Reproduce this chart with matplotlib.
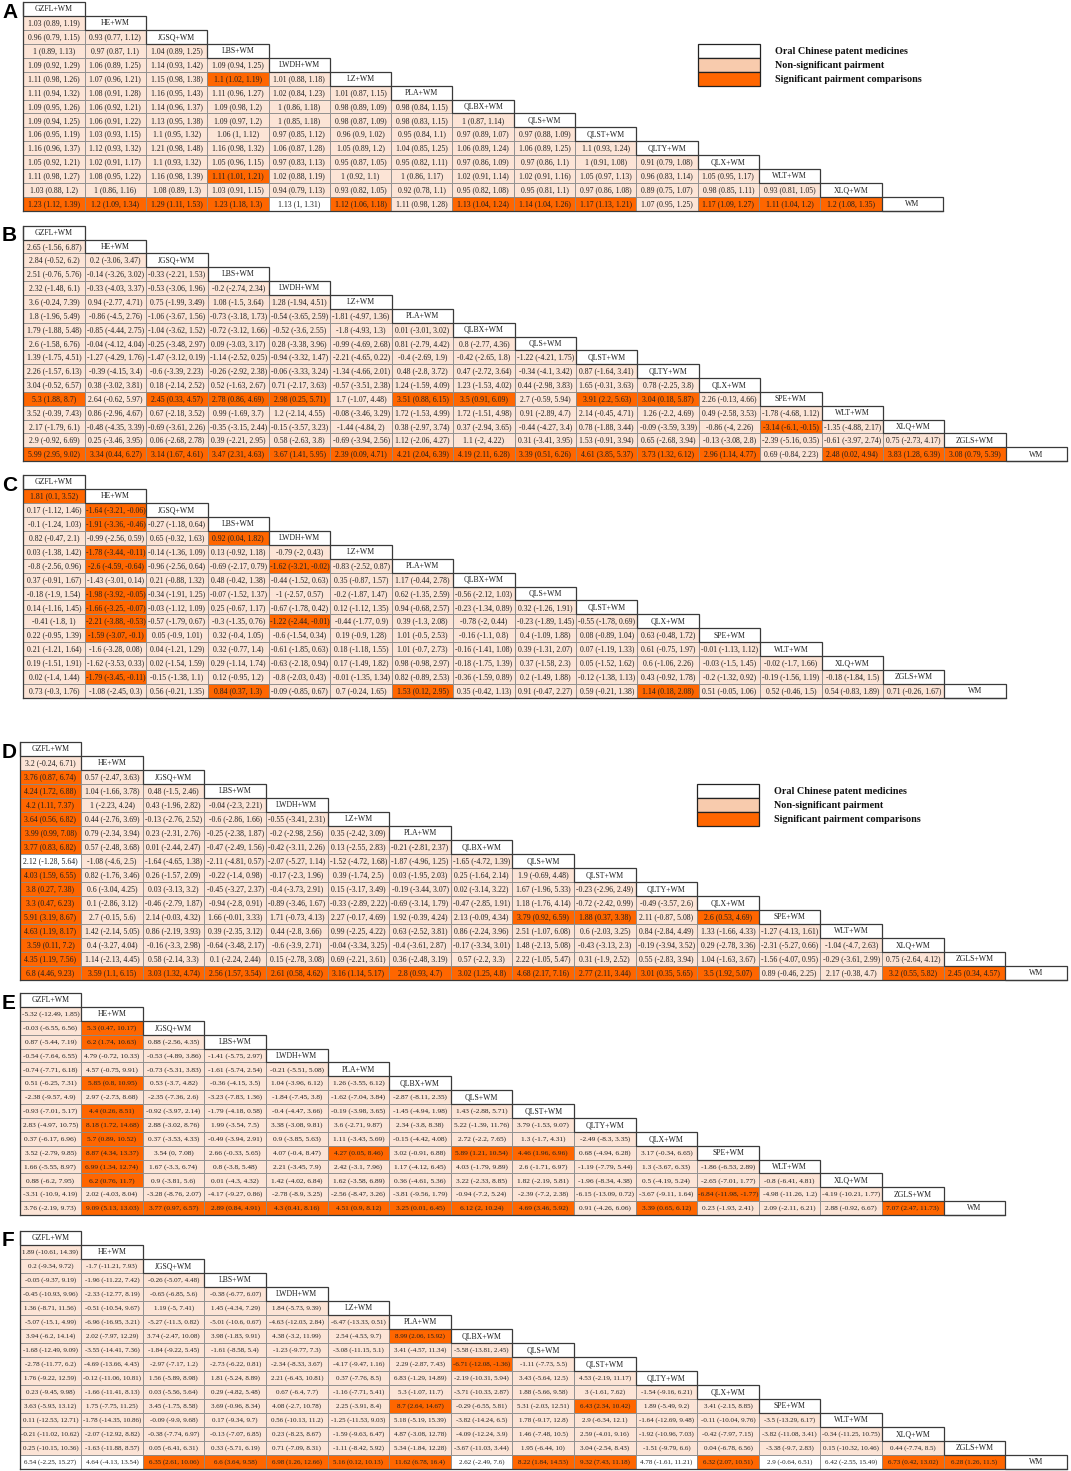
import re
import matplotlib
matplotlib.use("Agg")
import matplotlib.pyplot as plt
from matplotlib.patches import Rectangle

# ---------------- DATA ----------------
treat_A = ["GZFL+WM", "HE+WM", "JGSQ+WM", "LBS+WM", "LWDH+WM", "LZ+WM", "PLA+WM", "QLBX+WM",
           "QLS+WM", "QLST+WM", "QLTY+WM", "QLX+WM", "WLT+WM", "XLQ+WM", "WM"]
treat_17 = ["GZFL+WM", "HE+WM", "JGSQ+WM", "LBS+WM", "LWDH+WM", "LZ+WM", "PLA+WM", "QLBX+WM",
            "QLS+WM", "QLST+WM", "QLTY+WM", "QLX+WM", "SPE+WM", "WLT+WM", "XLQ+WM", "ZGLS+WM", "WM"]
treat_C = ["GZFL+WM", "HE+WM", "JGSQ+WM", "LBS+WM", "LWDH+WM", "LZ+WM", "PLA+WM", "QLBX+WM",
           "QLS+WM", "QLST+WM", "QLX+WM", "SPE+WM", "WLT+WM", "XLQ+WM", "ZGLS+WM", "WM"]
treat_E = ["GZFL+WM", "HE+WM", "JGSQ+WM", "LBS+WM", "LWDH+WM", "PLA+WM", "QLBX+WM",
           "QLS+WM", "QLST+WM", "QLTY+WM", "QLX+WM", "SPE+WM", "WLT+WM", "XLQ+WM", "ZGLS+WM", "WM"]

rows_A = [
    ["1.03 (0.89, 1.19)"],
    ["0.96 (0.79, 1.15)", "0.93 (0.77, 1.12)"],
    ["1 (0.89, 1.13)", "0.97 (0.87, 1.1)", "1.04 (0.89, 1.25)"],
    ["1.09 (0.92, 1.29)", "1.06 (0.89, 1.25)", "1.14 (0.93, 1.42)", "1.09 (0.94, 1.25)"],
    ["1.11 (0.98, 1.26)", "1.07 (0.96, 1.21)", "1.15 (0.98, 1.38)", "1.1 (1.02, 1.19)", "1.01 (0.88, 1.18)"],
    ["1.11 (0.94, 1.32)", "1.08 (0.91, 1.28)", "1.16 (0.95, 1.43)", "1.11 (0.96, 1.27)", "1.02 (0.84, 1.23)",
     "1.01 (0.87, 1.15)"],
    ["1.09 (0.95, 1.26)", "1.06 (0.92, 1.21)", "1.14 (0.96, 1.37)", "1.09 (0.98, 1.2)", "1 (0.86, 1.18)",
     "0.98 (0.89, 1.09)", "0.98 (0.84, 1.15)"],
    ["1.09 (0.94, 1.25)", "1.06 (0.91, 1.22)", "1.13 (0.95, 1.38)", "1.09 (0.97, 1.2)", "1 (0.85, 1.18)",
     "0.98 (0.87, 1.09)", "0.98 (0.83, 1.15)", "1 (0.87, 1.14)"],
    ["1.06 (0.95, 1.19)", "1.03 (0.93, 1.15)", "1.1 (0.95, 1.32)", "1.06 (1, 1.12)", "0.97 (0.85, 1.12)",
     "0.96 (0.9, 1.02)", "0.95 (0.84, 1.1)", "0.97 (0.89, 1.07)", "0.97 (0.88, 1.09)"],
    ["1.16 (0.96, 1.37)", "1.12 (0.93, 1.32)", "1.21 (0.98, 1.48)", "1.16 (0.98, 1.32)", "1.06 (0.87, 1.28)",
     "1.05 (0.89, 1.2)", "1.04 (0.85, 1.25)", "1.06 (0.89, 1.24)", "1.06 (0.89, 1.25)", "1.1 (0.93, 1.24)"],
    ["1.05 (0.92, 1.21)", "1.02 (0.91, 1.17)", "1.1 (0.93, 1.32)", "1.05 (0.96, 1.15)", "0.97 (0.83, 1.13)",
     "0.95 (0.87, 1.05)", "0.95 (0.82, 1.11)", "0.97 (0.86, 1.09)", "0.97 (0.86, 1.1)", "1 (0.91, 1.08)",
     "0.91 (0.79, 1.08)"],
    ["1.11 (0.98, 1.27)", "1.08 (0.95, 1.22)", "1.16 (0.98, 1.39)", "1.11 (1.01, 1.21)", "1.02 (0.88, 1.19)",
     "1 (0.92, 1.1)", "1 (0.86, 1.17)", "1.02 (0.91, 1.14)", "1.02 (0.91, 1.16)", "1.05 (0.97, 1.13)",
     "0.96 (0.83, 1.14)", "1.05 (0.95, 1.17)"],
    ["1.03 (0.88, 1.2)", "1 (0.86, 1.16)", "1.08 (0.89, 1.3)", "1.03 (0.91, 1.15)", "0.94 (0.79, 1.13)",
     "0.93 (0.82, 1.05)", "0.92 (0.78, 1.1)", "0.95 (0.82, 1.08)", "0.95 (0.81, 1.1)", "0.97 (0.86, 1.08)",
     "0.89 (0.75, 1.07)", "0.98 (0.85, 1.11)", "0.93 (0.81, 1.05)"],
    ["1.23 (1.12, 1.39)", "1.2 (1.09, 1.34)", "1.29 (1.11, 1.53)", "1.23 (1.18, 1.3)", "1.13 (1, 1.31)",
     "1.12 (1.06, 1.18)", "1.11 (0.98, 1.28)", "1.13 (1.04, 1.24)", "1.14 (1.04, 1.26)", "1.17 (1.13, 1.21)",
     "1.07 (0.95, 1.25)", "1.17 (1.09, 1.27)", "1.11 (1.04, 1.2)", "1.2 (1.08, 1.35)"],
]

rows_B = [
    ["2.65 (-1.56, 6.87)"],
    ["2.84 (-0.52, 6.2)", "0.2 (-3.06, 3.47)"],
    ["2.51 (-0.76, 5.76)", "-0.14 (-3.26, 3.02)", "-0.33 (-2.21, 1.53)"],
    ["2.32 (-1.48, 6.1)", "-0.33 (-4.03, 3.37)", "-0.53 (-3.06, 1.96)", "-0.2 (-2.74, 2.34)"],
    ["3.6 (-0.24, 7.39)", "0.94 (-2.77, 4.71)", "0.75 (-1.99, 3.49)", "1.08 (-1.5, 3.64)", "1.28 (-1.94, 4.51)"],
    ["1.8 (-1.96, 5.49)", "-0.86 (-4.5, 2.76)", "-1.06 (-3.67, 1.56)", "-0.73 (-3.18, 1.73)",
     "-0.54 (-3.65, 2.59)", "-1.81 (-4.97, 1.36)"],
    ["1.79 (-1.88, 5.48)", "-0.85 (-4.44, 2.75)", "-1.04 (-3.62, 1.52)", "-0.72 (-3.12, 1.66)",
     "-0.52 (-3.6, 2.55)", "-1.8 (-4.93, 1.3)", "0.01 (-3.01, 3.02)"],
    ["2.6 (-1.58, 6.76)", "-0.04 (-4.12, 4.04)", "-0.25 (-3.48, 2.97)", "0.09 (-3.03, 3.17)",
     "0.28 (-3.38, 3.96)", "-0.99 (-4.69, 2.68)", "0.81 (-2.79, 4.42)", "0.8 (-2.77, 4.36)"],
    ["1.39 (-1.75, 4.51)", "-1.27 (-4.29, 1.76)", "-1.47 (-3.12, 0.19)", "-1.14 (-2.52, 0.25)",
     "-0.94 (-3.32, 1.47)", "-2.21 (-4.65, 0.22)", "-0.4 (-2.69, 1.9)", "-0.42 (-2.65, 1.8)",
     "-1.22 (-4.21, 1.75)"],
    ["2.26 (-1.57, 6.13)", "-0.39 (-4.15, 3.4)", "-0.6 (-3.39, 2.23)", "-0.26 (-2.92, 2.38)",
     "-0.06 (-3.33, 3.24)", "-1.34 (-4.66, 2.01)", "0.48 (-2.8, 3.72)", "0.47 (-2.72, 3.64)",
     "-0.34 (-4.1, 3.42)", "0.87 (-1.64, 3.41)"],
    ["3.04 (-0.52, 6.57)", "0.38 (-3.02, 3.81)", "0.18 (-2.14, 2.52)", "0.52 (-1.63, 2.67)",
     "0.71 (-2.17, 3.63)", "-0.57 (-3.51, 2.38)", "1.24 (-1.59, 4.09)", "1.23 (-1.53, 4.02)",
     "0.44 (-2.98, 3.83)", "1.65 (-0.31, 3.63)", "0.78 (-2.25, 3.8)"],
    ["5.3 (1.88, 8.7)", "2.64 (-0.62, 5.97)", "2.45 (0.33, 4.57)", "2.78 (0.86, 4.69)", "2.98 (0.25, 5.71)",
     "1.7 (-1.07, 4.48)", "3.51 (0.88, 6.15)", "3.5 (0.91, 6.09)", "2.7 (-0.59, 5.94)", "3.91 (2.2, 5.63)",
     "3.04 (0.18, 5.87)", "2.26 (-0.13, 4.66)"],
    ["3.52 (-0.39, 7.43)", "0.86 (-2.96, 4.67)", "0.67 (-2.18, 3.52)", "0.99 (-1.69, 3.7)",
     "1.2 (-2.14, 4.55)", "-0.08 (-3.46, 3.29)", "1.72 (-1.53, 4.99)", "1.72 (-1.51, 4.98)",
     "0.91 (-2.89, 4.7)", "2.14 (-0.45, 4.71)", "1.26 (-2.2, 4.69)", "0.49 (-2.58, 3.53)",
     "-1.78 (-4.68, 1.12)"],
    ["2.17 (-1.79, 6.1)", "-0.48 (-4.35, 3.39)", "-0.69 (-3.61, 2.26)", "-0.35 (-3.15, 2.44)",
     "-0.15 (-3.57, 3.23)", "-1.44 (-4.84, 2)", "0.38 (-2.97, 3.74)", "0.37 (-2.94, 3.65)",
     "-0.44 (-4.27, 3.4)", "0.78 (-1.88, 3.44)", "-0.09 (-3.59, 3.39)", "-0.86 (-4, 2.26)",
     "-3.14 (-6.1, -0.15)", "-1.35 (-4.88, 2.17)"],
    ["2.9 (-0.92, 6.69)", "0.25 (-3.46, 3.95)", "0.06 (-2.68, 2.78)", "0.39 (-2.21, 2.95)",
     "0.58 (-2.63, 3.8)", "-0.69 (-3.94, 2.56)", "1.12 (-2.06, 4.27)", "1.1 (-2, 4.22)",
     "0.31 (-3.41, 3.95)", "1.53 (-0.91, 3.94)", "0.65 (-2.68, 3.94)", "-0.13 (-3.08, 2.8)",
     "-2.39 (-5.16, 0.35)", "-0.61 (-3.97, 2.74)", "0.75 (-2.73, 4.17)"],
    ["5.99 (2.95, 9.02)", "3.34 (0.44, 6.27)", "3.14 (1.67, 4.61)", "3.47 (2.31, 4.63)", "3.67 (1.41, 5.95)",
     "2.39 (0.09, 4.71)", "4.21 (2.04, 6.39)", "4.19 (2.11, 6.28)", "3.39 (0.51, 6.26)", "4.61 (3.85, 5.37)",
     "3.73 (1.32, 6.12)", "2.96 (1.14, 4.77)", "0.69 (-0.84, 2.23)", "2.48 (0.02, 4.94)",
     "3.83 (1.28, 6.39)", "3.08 (0.79, 5.39)"],
]

rows_C = [
    ["1.81 (0.1, 3.52)"],
    ["0.17 (-1.12, 1.46)", "-1.64 (-3.21, -0.06)"],
    ["-0.1 (-1.24, 1.03)", "-1.91 (-3.36, -0.46)", "-0.27 (-1.18, 0.64)"],
    ["0.82 (-0.47, 2.1)", "-0.99 (-2.56, 0.59)", "0.65 (-0.32, 1.63)", "0.92 (0.04, 1.82)"],
    ["0.03 (-1.38, 1.42)", "-1.78 (-3.44, -0.11)", "-0.14 (-1.36, 1.09)", "0.13 (-0.92, 1.18)",
     "-0.79 (-2, 0.43)"],
    ["-0.8 (-2.56, 0.96)", "-2.6 (-4.59, -0.64)", "-0.96 (-2.56, 0.64)", "-0.69 (-2.17, 0.79)",
     "-1.62 (-3.21, -0.02)", "-0.83 (-2.52, 0.87)"],
    ["0.37 (-0.91, 1.67)", "-1.43 (-3.01, 0.14)", "0.21 (-0.88, 1.32)", "0.48 (-0.42, 1.38)",
     "-0.44 (-1.52, 0.63)", "0.35 (-0.87, 1.57)", "1.17 (-0.44, 2.78)"],
    ["-0.18 (-1.9, 1.54)", "-1.98 (-3.92, -0.05)", "-0.34 (-1.91, 1.25)", "-0.07 (-1.52, 1.37)",
     "-1 (-2.57, 0.57)", "-0.2 (-1.87, 1.47)", "0.62 (-1.35, 2.59)", "-0.56 (-2.12, 1.03)"],
    ["0.14 (-1.16, 1.45)", "-1.66 (-3.25, -0.07)", "-0.03 (-1.12, 1.09)", "0.25 (-0.67, 1.17)",
     "-0.67 (-1.78, 0.42)", "0.12 (-1.12, 1.35)", "0.94 (-0.68, 2.57)", "-0.23 (-1.34, 0.89)",
     "0.32 (-1.26, 1.91)"],
    ["-0.41 (-1.8, 1)", "-2.21 (-3.88, -0.53)", "-0.57 (-1.79, 0.67)", "-0.3 (-1.35, 0.76)",
     "-1.22 (-2.44, -0.01)", "-0.44 (-1.77, 0.9)", "0.39 (-1.3, 2.08)", "-0.78 (-2, 0.44)",
     "-0.23 (-1.89, 1.45)", "-0.55 (-1.78, 0.69)"],
    ["0.22 (-0.95, 1.39)", "-1.59 (-3.07, -0.1)", "0.05 (-0.9, 1.01)", "0.32 (-0.4, 1.05)",
     "-0.6 (-1.54, 0.34)", "0.19 (-0.9, 1.28)", "1.01 (-0.5, 2.53)", "-0.16 (-1.1, 0.8)",
     "0.4 (-1.09, 1.88)", "0.08 (-0.89, 1.04)", "0.63 (-0.48, 1.72)"],
    ["0.21 (-1.21, 1.64)", "-1.6 (-3.28, 0.08)", "0.04 (-1.21, 1.29)", "0.32 (-0.77, 1.4)",
     "-0.61 (-1.85, 0.63)", "0.18 (-1.18, 1.55)", "1.01 (-0.7, 2.73)", "-0.16 (-1.41, 1.08)",
     "0.39 (-1.31, 2.07)", "0.07 (-1.19, 1.33)", "0.61 (-0.75, 1.97)", "-0.01 (-1.13, 1.12)"],
    ["0.19 (-1.51, 1.91)", "-1.62 (-3.53, 0.33)", "0.02 (-1.54, 1.59)", "0.29 (-1.14, 1.74)",
     "-0.63 (-2.18, 0.94)", "0.17 (-1.49, 1.82)", "0.98 (-0.98, 2.97)", "-0.18 (-1.75, 1.39)",
     "0.37 (-1.58, 2.3)", "0.05 (-1.52, 1.62)", "0.6 (-1.06, 2.26)", "-0.03 (-1.5, 1.45)",
     "-0.02 (-1.7, 1.66)"],
    ["0.02 (-1.4, 1.44)", "-1.79 (-3.45, -0.11)", "-0.15 (-1.38, 1.1)", "0.12 (-0.95, 1.2)",
     "-0.8 (-2.03, 0.43)", "-0.01 (-1.35, 1.34)", "0.82 (-0.89, 2.53)", "-0.36 (-1.59, 0.89)",
     "0.2 (-1.49, 1.88)", "-0.12 (-1.38, 1.13)", "0.43 (-0.92, 1.78)", "-0.2 (-1.32, 0.92)",
     "-0.19 (-1.56, 1.19)", "-0.18 (-1.84, 1.5)"],
    ["0.73 (-0.3, 1.76)", "-1.08 (-2.45, 0.3)", "0.56 (-0.21, 1.35)", "0.84 (0.37, 1.3)",
     "-0.09 (-0.85, 0.67)", "0.7 (-0.24, 1.65)", "1.53 (0.12, 2.95)", "0.35 (-0.42, 1.13)",
     "0.91 (-0.47, 2.27)", "0.59 (-0.21, 1.38)", "1.14 (0.18, 2.08)", "0.51 (-0.05, 1.06)",
     "0.52 (-0.46, 1.5)", "0.54 (-0.83, 1.89)", "0.71 (-0.26, 1.67)"],
]

rows_D = [
    ["3.2 (-0.24, 6.71)"],
    ["3.76 (0.87, 6.74)", "0.57 (-2.47, 3.63)"],
    ["4.24 (1.72, 6.88)", "1.04 (-1.66, 3.78)", "0.48 (-1.5, 2.46)"],
    ["4.2 (1.11, 7.37)", "1 (-2.23, 4.24)", "0.43 (-1.96, 2.82)", "-0.04 (-2.3, 2.21)"],
    ["3.64 (0.56, 6.82)", "0.44 (-2.76, 3.69)", "-0.13 (-2.76, 2.52)", "-0.6 (-2.86, 1.66)",
     "-0.55 (-3.41, 2.31)"],
    ["3.99 (0.99, 7.08)", "0.79 (-2.34, 3.94)", "0.23 (-2.31, 2.76)", "-0.25 (-2.38, 1.87)",
     "-0.2 (-2.98, 2.56)", "0.35 (-2.42, 3.09)"],
    ["3.77 (0.83, 6.82)", "0.57 (-2.48, 3.68)", "0.01 (-2.44, 2.47)", "-0.47 (-2.49, 1.56)",
     "-0.42 (-3.11, 2.26)", "0.13 (-2.55, 2.83)", "-0.21 (-2.81, 2.37)"],
    ["2.12 (-1.28, 5.64)", "-1.08 (-4.6, 2.5)", "-1.64 (-4.65, 1.38)", "-2.11 (-4.81, 0.57)",
     "-2.07 (-5.27, 1.14)", "-1.52 (-4.72, 1.68)", "-1.87 (-4.96, 1.25)", "-1.65 (-4.72, 1.39)"],
    ["4.03 (1.59, 6.55)", "0.82 (-1.76, 3.46)", "0.26 (-1.57, 2.09)", "-0.22 (-1.4, 0.98)",
     "-0.17 (-2.3, 1.96)", "0.39 (-1.74, 2.5)", "0.03 (-1.95, 2.03)", "0.25 (-1.64, 2.14)",
     "1.9 (-0.69, 4.48)"],
    ["3.8 (0.27, 7.38)", "0.6 (-3.04, 4.25)", "0.03 (-3.13, 3.2)", "-0.45 (-3.27, 2.37)",
     "-0.4 (-3.73, 2.91)", "0.15 (-3.17, 3.49)", "-0.19 (-3.44, 3.07)", "0.02 (-3.14, 3.22)",
     "1.67 (-1.96, 5.33)", "-0.23 (-2.96, 2.49)"],
    ["3.3 (0.47, 6.23)", "0.1 (-2.86, 3.12)", "-0.46 (-2.79, 1.87)", "-0.94 (-2.8, 0.91)",
     "-0.89 (-3.46, 1.67)", "-0.33 (-2.89, 2.22)", "-0.69 (-3.14, 1.79)", "-0.47 (-2.85, 1.91)",
     "1.18 (-1.76, 4.14)", "-0.72 (-2.42, 0.99)", "-0.49 (-3.57, 2.6)"],
    ["5.91 (3.19, 8.67)", "2.7 (-0.15, 5.6)", "2.14 (-0.03, 4.32)", "1.66 (-0.01, 3.33)",
     "1.71 (-0.73, 4.13)", "2.27 (-0.17, 4.69)", "1.92 (-0.39, 4.24)", "2.13 (-0.09, 4.34)",
     "3.79 (0.92, 6.59)", "1.88 (0.37, 3.38)", "2.11 (-0.87, 5.08)", "2.6 (0.53, 4.69)"],
    ["4.63 (1.19, 8.17)", "1.42 (-2.14, 5.05)", "0.86 (-2.19, 3.93)", "0.39 (-2.35, 3.12)",
     "0.44 (-2.8, 3.66)", "0.99 (-2.25, 4.22)", "0.63 (-2.52, 3.81)", "0.86 (-2.24, 3.96)",
     "2.51 (-1.07, 6.08)", "0.6 (-2.03, 3.25)", "0.84 (-2.84, 4.49)", "1.33 (-1.66, 4.33)",
     "-1.27 (-4.13, 1.61)"],
    ["3.59 (0.11, 7.2)", "0.4 (-3.27, 4.04)", "-0.16 (-3.3, 2.98)", "-0.64 (-3.48, 2.17)",
     "-0.6 (-3.9, 2.71)", "-0.04 (-3.34, 3.25)", "-0.4 (-3.61, 2.87)", "-0.17 (-3.34, 3.01)",
     "1.48 (-2.13, 5.08)", "-0.43 (-3.13, 2.3)", "-0.19 (-3.94, 3.52)", "0.29 (-2.78, 3.36)",
     "-2.31 (-5.27, 0.66)", "-1.04 (-4.7, 2.63)"],
    ["4.35 (1.19, 7.56)", "1.14 (-2.13, 4.45)", "0.58 (-2.14, 3.3)", "0.1 (-2.24, 2.44)",
     "0.15 (-2.78, 3.08)", "0.69 (-2.21, 3.61)", "0.36 (-2.48, 3.19)", "0.57 (-2.2, 3.3)",
     "2.22 (-1.05, 5.47)", "0.31 (-1.9, 2.52)", "0.55 (-2.83, 3.94)", "1.04 (-1.63, 3.67)",
     "-1.56 (-4.07, 0.95)", "-0.29 (-3.61, 2.99)", "0.75 (-2.64, 4.12)"],
    ["6.8 (4.46, 9.23)", "3.59 (1.1, 6.15)", "3.03 (1.32, 4.74)", "2.56 (1.57, 3.54)", "2.61 (0.58, 4.62)",
     "3.16 (1.14, 5.17)", "2.8 (0.93, 4.7)", "3.02 (1.25, 4.8)", "4.68 (2.17, 7.16)", "2.77 (2.11, 3.44)",
     "3.01 (0.35, 5.65)", "3.5 (1.92, 5.07)", "0.89 (-0.46, 2.25)", "2.17 (-0.38, 4.7)",
     "3.2 (0.55, 5.82)", "2.45 (0.34, 4.57)"],
]

rows_E = [
    ["-5.32 (-12.49, 1.85)"],
    ["-0.03 (-6.55, 6.56)", "5.3 (0.47, 10.17)"],
    ["0.87 (-5.44, 7.19)", "6.2 (1.74, 10.63)", "0.88 (-2.56, 4.35)"],
    ["-0.54 (-7.64, 6.55)", "4.79 (-0.72, 10.33)", "-0.53 (-4.89, 3.86)", "-1.41 (-5.75, 2.97)"],
    ["-0.74 (-7.71, 6.18)", "4.57 (-0.75, 9.91)", "-0.73 (-5.31, 3.83)", "-1.61 (-5.74, 2.54)",
     "-0.21 (-5.51, 5.08)"],
    ["0.51 (-6.25, 7.31)", "5.85 (0.8, 10.95)", "0.53 (-3.7, 4.82)", "-0.36 (-4.15, 3.5)",
     "1.04 (-3.96, 6.12)", "1.26 (-3.55, 6.12)"],
    ["-2.38 (-9.57, 4.9)", "2.97 (-2.73, 8.68)", "-2.35 (-7.36, 2.6)", "-3.23 (-7.83, 1.36)",
     "-1.84 (-7.45, 3.8)", "-1.62 (-7.04, 3.84)", "-2.87 (-8.11, 2.35)"],
    ["-0.93 (-7.01, 5.17)", "4.4 (0.26, 8.51)", "-0.92 (-3.97, 2.14)", "-1.79 (-4.18, 0.58)",
     "-0.4 (-4.47, 3.66)", "-0.19 (-3.98, 3.65)", "-1.45 (-4.94, 1.98)", "1.43 (-2.88, 5.71)"],
    ["2.83 (-4.97, 10.75)", "8.18 (1.72, 14.68)", "2.88 (-3.02, 8.76)", "1.99 (-3.54, 7.5)",
     "3.38 (-3.08, 9.81)", "3.6 (-2.71, 9.87)", "2.34 (-3.8, 8.38)", "5.22 (-1.39, 11.76)",
     "3.79 (-1.53, 9.07)"],
    ["0.37 (-6.17, 6.96)", "5.7 (0.89, 10.52)", "0.37 (-3.53, 4.33)", "-0.49 (-3.94, 2.91)",
     "0.9 (-3.85, 5.63)", "1.11 (-3.43, 5.69)", "-0.15 (-4.42, 4.08)", "2.72 (-2.2, 7.65)",
     "1.3 (-1.7, 4.31)", "-2.49 (-8.3, 3.35)"],
    ["3.52 (-2.79, 9.85)", "8.87 (4.34, 13.37)", "3.54 (0, 7.08)", "2.66 (-0.33, 5.65)",
     "4.07 (-0.4, 8.47)", "4.27 (0.05, 8.46)", "3.02 (-0.91, 6.88)", "5.89 (1.21, 10.54)",
     "4.46 (1.96, 6.96)", "0.68 (-4.94, 6.28)", "3.17 (-0.34, 6.65)"],
    ["1.66 (-5.55, 8.97)", "6.99 (1.34, 12.74)", "1.67 (-3.3, 6.74)", "0.8 (-3.8, 5.48)",
     "2.21 (-3.45, 7.9)", "2.42 (-3.1, 7.96)", "1.17 (-4.12, 6.45)", "4.03 (-1.79, 9.89)",
     "2.6 (-1.71, 6.97)", "-1.19 (-7.79, 5.44)", "1.3 (-3.67, 6.33)", "-1.86 (-6.53, 2.89)"],
    ["0.88 (-6.2, 7.95)", "6.2 (0.76, 11.7)", "0.9 (-3.81, 5.6)", "0.01 (-4.3, 4.32)",
     "1.42 (-4.02, 6.84)", "1.62 (-3.58, 6.89)", "0.36 (-4.61, 5.36)", "3.22 (-2.33, 8.85)",
     "1.82 (-2.19, 5.81)", "-1.96 (-8.34, 4.38)", "0.5 (-4.19, 5.24)", "-2.65 (-7.01, 1.77)",
     "-0.8 (-6.41, 4.81)"],
    ["-3.31 (-10.9, 4.19)", "2.02 (-4.03, 8.04)", "-3.28 (-8.76, 2.07)", "-4.17 (-9.27, 0.86)",
     "-2.78 (-8.9, 3.25)", "-2.56 (-8.47, 3.26)", "-3.81 (-9.56, 1.79)", "-0.94 (-7.2, 5.24)",
     "-2.39 (-7.2, 2.38)", "-6.15 (-13.09, 0.72)", "-3.67 (-9.11, 1.64)", "-6.84 (-11.98, -1.77)",
     "-4.98 (-11.26, 1.2)", "-4.19 (-10.21, 1.77)"],
    ["3.76 (-2.19, 9.73)", "9.09 (5.13, 13.03)", "3.77 (0.97, 6.57)", "2.89 (0.84, 4.91)",
     "4.3 (0.41, 8.16)", "4.51 (0.9, 8.12)", "3.25 (0.01, 6.45)", "6.12 (2, 10.24)", "4.69 (3.46, 5.92)",
     "0.91 (-4.26, 6.06)", "3.39 (0.65, 6.12)", "0.23 (-1.93, 2.41)", "2.09 (-2.11, 6.21)",
     "2.88 (-0.92, 6.67)", "7.07 (2.47, 11.73)"],
]

rows_F = [
    ["1.89 (-10.61, 14.39)"],
    ["0.2 (-9.34, 9.72)", "-1.7 (-11.21, 7.93)"],
    ["-0.05 (-9.37, 9.19)", "-1.96 (-11.22, 7.42)", "-0.26 (-5.07, 4.48)"],
    ["-0.45 (-10.93, 9.96)", "-2.33 (-12.77, 8.19)", "-0.65 (-6.85, 5.6)", "-0.38 (-6.77, 6.07)"],
    ["1.36 (-8.71, 11.56)", "-0.51 (-10.54, 9.67)", "1.19 (-5, 7.41)", "1.45 (-4.34, 7.29)",
     "1.84 (-5.73, 9.39)"],
    ["-5.07 (-15.1, 4.99)", "-6.96 (-16.95, 3.21)", "-5.27 (-11.3, 0.82)", "-5.01 (-10.6, 0.67)",
     "-4.63 (-12.03, 2.84)", "-6.47 (-13.33, 0.51)"],
    ["3.94 (-6.2, 14.14)", "2.02 (-7.97, 12.29)", "3.74 (-2.47, 10.08)", "3.98 (-1.83, 9.91)",
     "4.38 (-3.2, 11.99)", "2.54 (-4.53, 9.7)", "8.99 (2.06, 15.92)"],
    ["-1.68 (-12.49, 9.09)", "-3.55 (-14.41, 7.36)", "-1.84 (-9.22, 5.45)", "-1.61 (-8.58, 5.4)",
     "-1.23 (-9.77, 7.3)", "-3.08 (-11.15, 5.1)", "3.41 (-4.57, 11.34)", "-5.58 (-13.81, 2.45)"],
    ["-2.78 (-11.77, 6.2)", "-4.69 (-13.66, 4.43)", "-2.97 (-7.17, 1.2)", "-2.73 (-6.22, 0.81)",
     "-2.34 (-8.33, 3.67)", "-4.17 (-9.47, 1.16)", "2.29 (-2.87, 7.43)", "-6.71 (-12.08, -1.36)",
     "-1.11 (-7.73, 5.5)"],
    ["1.76 (-9.22, 12.59)", "-0.12 (-11.06, 10.81)", "1.56 (-5.89, 8.98)", "1.81 (-5.24, 8.89)",
     "2.21 (-6.43, 10.81)", "0.37 (-7.76, 8.5)", "6.83 (-1.29, 14.89)", "-2.19 (-10.31, 5.94)",
     "3.43 (-5.64, 12.5)", "4.53 (-2.19, 11.17)"],
    ["0.23 (-9.45, 9.98)", "-1.66 (-11.41, 8.13)", "0.03 (-5.56, 5.64)", "0.29 (-4.82, 5.48)",
     "0.67 (-6.4, 7.7)", "-1.16 (-7.71, 5.41)", "5.3 (-1.07, 11.7)", "-3.71 (-10.33, 2.87)",
     "1.88 (-5.66, 9.58)", "3 (-1.61, 7.62)", "-1.54 (-9.16, 6.21)"],
    ["3.63 (-5.93, 13.12)", "1.75 (-7.75, 11.25)", "3.45 (-1.75, 8.58)", "3.69 (-0.96, 8.34)",
     "4.08 (-2.7, 10.78)", "2.25 (-3.91, 8.4)", "8.7 (2.64, 14.67)", "-0.29 (-6.55, 5.81)",
     "5.31 (-2.03, 12.51)", "6.43 (2.34, 10.42)", "1.89 (-5.49, 9.2)", "3.41 (-2.15, 8.85)"],
    ["0.11 (-12.53, 12.71)", "-1.78 (-14.35, 10.86)", "-0.09 (-9.9, 9.68)", "0.17 (-9.34, 9.7)",
     "0.56 (-10.13, 11.2)", "-1.25 (-11.53, 9.03)", "5.18 (-5.19, 15.39)", "-3.82 (-14.24, 6.5)",
     "1.78 (-9.17, 12.8)", "2.9 (-6.34, 12.1)", "-1.64 (-12.69, 9.48)", "-0.11 (-10.04, 9.76)",
     "-3.5 (-13.29, 6.17)"],
    ["-0.21 (-11.02, 10.62)", "-2.07 (-12.92, 8.82)", "-0.38 (-7.74, 6.97)", "-0.13 (-7.07, 6.85)",
     "0.23 (-8.23, 8.67)", "-1.59 (-9.63, 6.47)", "4.87 (-3.08, 12.78)", "-4.09 (-12.24, 3.9)",
     "1.46 (-7.48, 10.5)", "2.59 (-4.01, 9.16)", "-1.92 (-10.96, 7.03)", "-0.42 (-7.97, 7.15)",
     "-3.82 (-11.08, 3.41)", "-0.34 (-11.25, 10.75)"],
    ["0.25 (-10.15, 10.36)", "-1.63 (-11.88, 8.57)", "0.05 (-6.41, 6.31)", "0.33 (-5.71, 6.19)",
     "0.71 (-7.09, 8.31)", "-1.11 (-8.42, 5.92)", "5.34 (-1.84, 12.28)", "-3.67 (-11.03, 3.44)",
     "1.95 (-6.44, 10)", "3.04 (-2.54, 8.43)", "-1.51 (-9.79, 6.6)", "0.04 (-6.78, 6.56)",
     "-3.38 (-9.7, 2.83)", "0.15 (-10.32, 10.46)", "0.44 (-7.74, 8.5)"],
    ["6.54 (-2.25, 15.27)", "4.64 (-4.13, 13.54)", "6.35 (2.61, 10.06)", "6.6 (3.64, 9.58)",
     "6.98 (1.26, 12.66)", "5.16 (0.12, 10.13)", "11.62 (6.78, 16.4)", "2.62 (-2.49, 7.6)",
     "8.22 (1.84, 14.53)", "9.32 (7.43, 11.18)", "4.78 (-1.61, 11.21)", "6.32 (2.07, 10.51)",
     "2.9 (-0.64, 6.51)", "6.42 (-2.55, 15.49)", "6.73 (0.42, 13.02)", "6.28 (1.26, 11.5)"],
]

# null value for significance (ratio for A, difference for B-F)
null_values = {"A": 1.0, "B": 0.0, "C": 0.0, "D": 0.0, "E": 0.0, "F": 0.0}
# non-significant cells shown without shading (row, col)
white_cells = {"A": [(14, 4)], "D": [(8, 0)], "F": [(16, 0), (16, 1), (16, 7), (16, 10), (16, 12), (16, 13)]}

legend_labels = ["Oral Chinese patent medicines", "Non-significant pairment", "Significant pairment comparisons"]

# ---------------- STYLE ----------------
C_WHITE = "#FFFFFF"
C_NS = "#FCE4D6"
C_SIG = "#FF6600"
C_LEG_NS = "#F8CBAD"
GRID = "#8a8a8a"
DARK = "#3a3a3a"
TXT = "#1e1e1e"
CELL_FONT = ["Liberation Serif", "DejaVu Serif"]

W, H = 1071, 1471
fig = plt.figure(figsize=(W / 100, H / 100), dpi=100)
ax = fig.add_axes([0, 0, 1, 1])
ax.set_xlim(0, W)
ax.set_ylim(H, 0)
ax.axis("off")

num_re = re.compile(r"-?\d+(?:\.\d+)?")


def draw_panel(letter, treatments, rows, x0, y0, cw, rh, fs=5.6):
    null = null_values[letter]
    whites = set(white_cells.get(letter, []))
    ax.text(2, y0 + 15.5, letter, fontsize=15, fontweight="bold",
            family=["Liberation Sans", "DejaVu Sans"], va="baseline", ha="left", color="black")
    for i, row in enumerate(rows, start=1):
        for j, s in enumerate(row):
            est, lo, hi = [float(v) for v in num_re.findall(s)]
            sig = lo > null or hi < null
            fc = C_SIG if sig else (C_WHITE if (i, j) in whites else C_NS)
            ax.add_patch(Rectangle((x0 + j * cw, y0 + i * rh), cw, rh, facecolor=fc,
                                   edgecolor=GRID, linewidth=0.6, zorder=1))
            ax.text(x0 + (j + 0.5) * cw, y0 + (i + 0.5) * rh + 0.3, s, fontsize=fs, family=CELL_FONT,
                    ha="center", va="center", color=TXT, zorder=3)
    for i, t in enumerate(treatments):
        ax.add_patch(Rectangle((x0 + i * cw, y0 + i * rh), cw, rh, facecolor=C_WHITE,
                               edgecolor=DARK, linewidth=0.9, zorder=2))
        ax.text(x0 + (i + 0.5) * cw, y0 + (i + 0.5) * rh + 0.3, t, fontsize=5.6, family=CELL_FONT,
                ha="center", va="center", color=TXT, zorder=3)
    n = len(treatments)
    ax.plot([x0, x0], [y0, y0 + n * rh], color=DARK, lw=0.9, zorder=2)
    ax.plot([x0, x0 + n * cw], [y0 + n * rh, y0 + n * rh], color=DARK, lw=0.9, zorder=2)


def draw_legend(x, y, bw=62, bh=14):
    colors = [C_WHITE, C_LEG_NS, C_SIG]
    for k, (lab, c) in enumerate(zip(legend_labels, colors)):
        ax.add_patch(Rectangle((x, y + k * bh), bw, bh, facecolor=c, edgecolor="#222222",
                               linewidth=0.9, zorder=2))
        ax.text(x + bw + 15, y + (k + 0.5) * bh, lab, fontsize=7.3, fontweight="bold",
                family=CELL_FONT, ha="left", va="center", color="#111111")


draw_panel("A", treat_A, rows_A, 23.4, 2.0, 61.3, 13.93)
draw_panel("B", treat_17, rows_B, 23.4, 225.7, 61.4, 13.85)
draw_panel("C", treat_C, rows_C, 23.4, 475.0, 61.4, 13.94)
draw_panel("D", treat_17, rows_D, 19.6, 742.0, 61.6, 14.0)
draw_panel("E", treat_E, rows_E, 19.6, 993.0, 61.6, 13.88, fs=5.35)
draw_panel("F", treat_17, rows_F, 19.6, 1231.0, 61.6, 14.0, fs=5.05)

draw_legend(698, 44)
draw_legend(697, 784)

fig.savefig("out.png", dpi=100, facecolor="white")
